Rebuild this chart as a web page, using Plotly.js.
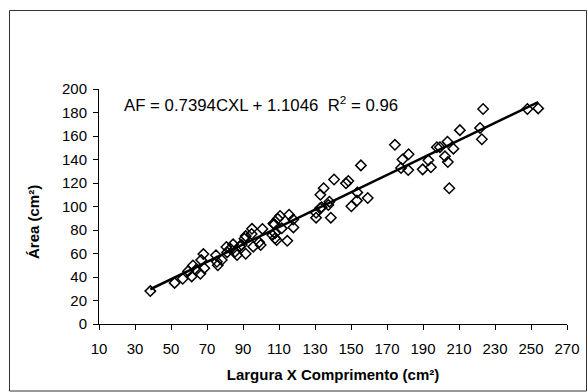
<!DOCTYPE html>
<html>
<head>
<meta charset="utf-8">
<script src="https://cdn.plot.ly/plotly-3.0.1.min.js"></script>
<style>html,body{margin:0;padding:0;background:#fff;}#chart{width:588px;height:392px;}</style>
</head>
<body>
<div id="chart"></div>
<script>
// Largura x Comprimento (cm²)
const cxl = [
  38.5, 52, 56.5, 59.5, 61.5, 62.2, 63.8, 66.3, 66.8, 68, 68.5,
  75, 75.5, 76, 78.2, 80.8, 81.2, 83, 84.5, 85.6, 86.7, 88.2,
  89.3, 90.8, 91.5, 91.5, 95, 94.8, 95.7, 99, 99.8, 100.8,
  106.3, 106.9, 107.4, 107.8, 107.8, 108.7, 109.3, 110.6, 111.5, 114.6, 115.6, 117.9, 118,
  130.6, 130.6, 132.8, 133, 134.8, 133.7, 137.4, 138, 138.8, 140.6,
  147.2, 148.5, 150.2, 153.3, 153.5, 159.3, 155.5,
  174.4, 178.6, 182, 177.8, 181.8, 189.8, 193, 194.4, 197.7, 199.4,
  203.6, 202.2, 203.8, 206.9, 204.6, 210.5, 221.7, 222.7, 223.4, 248, 254
];
// Área foliar (cm²)
const area = [
  28, 35, 38.5, 45, 40.5, 49.8, 46, 42.8, 54.5, 59.5, 47.5,
  58.5, 53, 50, 54.5, 65.5, 61, 64, 67.8, 61.5, 58.7, 66.2,
  67.2, 72.6, 59.8, 74.8, 81, 76.6, 65.8, 69.5, 67.2, 80.9,
  75.7, 85.6, 84.8, 77.2, 72.9, 71.5, 89.5, 92, 81.4, 70.8, 93, 89, 82.2,
  90.5, 94.7, 98.5, 110, 115.5, 99.3, 101.3, 104.1, 90.5, 123,
  119.7, 121.7, 100.2, 105, 112, 107.2, 135,
  152.5, 140, 144.5, 132.8, 131, 131.6, 139.3, 133.4, 150.4, 150.5,
  155.2, 142.7, 137.8, 149.2, 115.5, 165, 166.8, 157.2, 183, 183, 183.5
];
const xTicks = [10, 30, 50, 70, 90, 110, 130, 150, 170, 190, 210, 230, 250, 270];
const yTicks = [0, 20, 40, 60, 80, 100, 120, 140, 160, 180, 200];
const slope = 0.7394;
const intercept = 1.1046;
const rSquared = 0.96;

const xMin = Math.min(...cxl), xMax = Math.max(...cxl);
const lineX = [xMin, xMax];
const lineY = lineX.map(v => slope * v + intercept);

const font = 'Arial, "Liberation Sans", sans-serif';

const traces = [
  {
    x: cxl, y: area, type: 'scatter', mode: 'markers',
    marker: {symbol: 'diamond-open', size: 8, color: '#000', line: {width: 1.5}},
    hoverinfo: 'x+y'
  },
  {
    x: lineX, y: lineY, type: 'scatter', mode: 'lines',
    line: {color: '#000', width: 2.5}, hoverinfo: 'skip'
  }
];

const L = 99, R = 567, T = 89, B = 324;
const pw = R - L, ph = B - T;
const px = v => (v - L) / pw;
const py = v => (B - v) / ph;

const layout = {
  width: 588, height: 392,
  margin: {l: L, r: 588 - R, t: T, b: 392 - B, pad: 0},
  paper_bgcolor: '#fff', plot_bgcolor: '#fff',
  showlegend: false,
  font: {family: font, color: '#000', size: 15},
  xaxis: {
    range: [10, 270], tickvals: xTicks, ticktext: xTicks.map(String),
    showgrid: false, zeroline: false, showline: true, linecolor: '#000', linewidth: 1,
    ticks: 'outside', ticklen: 5, tickwidth: 1, tickcolor: '#000',
    ticklabelstandoff: 6,
    tickfont: {family: font, size: 15, color: '#000'},
    title: {text: '<b>Largura X Comprimento (cm²)</b>', font: {family: font, size: 15, color: '#000'}, standoff: 13}
  },
  yaxis: {
    range: [0, 200], tickvals: yTicks, ticktext: yTicks.map(String),
    showgrid: false, zeroline: false, showline: true, linecolor: '#000', linewidth: 1,
    ticks: 'outside', ticklen: 5, tickwidth: 1, tickcolor: '#000',
    ticklabelstandoff: 3,
    tickfont: {family: font, size: 15, color: '#000'}
  },
  annotations: [
    {
      xref: 'paper', yref: 'paper', x: px(33), y: py(222), xanchor: 'center', yanchor: 'middle',
      text: '<b>Área (cm²)</b>', textangle: -90, showarrow: false,
      font: {family: font, size: 15, color: '#000'}
    },
    {
      xref: 'paper', yref: 'paper', x: px(122), y: py(104), xanchor: 'left', yanchor: 'middle',
      text: 'AF = ' + slope + 'CXL + ' + intercept + '  R<sup>2</sup> = ' + rSquared,
      showarrow: false, font: {family: font, size: 16.8, color: '#000'}
    }
  ],
  shapes: [
    {
      type: 'rect', xref: 'paper', yref: 'paper',
      x0: px(9.5), x1: px(586.5), y0: py(391), y1: py(10.5),
      line: {color: '#333', width: 1}, fillcolor: 'rgba(0,0,0,0)', layer: 'below'
    }
  ]
};

Plotly.newPlot('chart', traces, layout, {staticPlot: true, displayModeBar: false});
</script>
</body>
</html>
